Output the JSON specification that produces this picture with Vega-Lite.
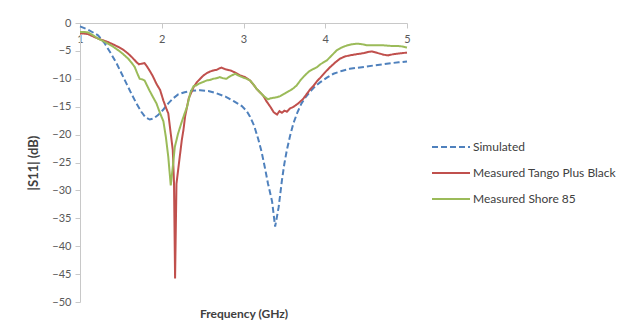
{
  "$schema": "https://vega.github.io/schema/vega-lite/v6.json",
  "width": 327,
  "height": 279,
  "autosize": {"type": "none"},
  "padding": {"left": 80, "top": 23, "right": 226, "bottom": 33},
  "background": "white",
  "config": {
    "view": {"stroke": null},
    "font": "Lato",
    "axis": {"grid": false, "domainColor": "#c8c8c8", "tickColor": "#c8c8c8", "labelColor": "#595959", "labelFont": "Lato", "labelFontSize": 11, "titleFont": "Lato", "titleFontSize": 12, "titleFontWeight": "bold", "titleColor": "#404040", "tickSize": 5}
  },
  "data": {"values": [
    {"s":"Simulated","f":1.0,"db":-0.6},{"s":"Simulated","f":1.1,"db":-1.2},{"s":"Simulated","f":1.22,"db":-2.2},{"s":"Simulated","f":1.3,"db":-3.6},{"s":"Simulated","f":1.38,"db":-5.5},{"s":"Simulated","f":1.45,"db":-7.3},{"s":"Simulated","f":1.51,"db":-9.1},{"s":"Simulated","f":1.57,"db":-10.9},{"s":"Simulated","f":1.63,"db":-12.7},{"s":"Simulated","f":1.69,"db":-14.4},{"s":"Simulated","f":1.75,"db":-15.9},{"s":"Simulated","f":1.8,"db":-16.9},{"s":"Simulated","f":1.853,"db":-17.3},{"s":"Simulated","f":1.9,"db":-17.1},{"s":"Simulated","f":1.955,"db":-16.5},{"s":"Simulated","f":2.02,"db":-15.5},{"s":"Simulated","f":2.08,"db":-14.4},{"s":"Simulated","f":2.14,"db":-13.5},{"s":"Simulated","f":2.2,"db":-12.8},{"s":"Simulated","f":2.28,"db":-12.4},{"s":"Simulated","f":2.36,"db":-12.15},{"s":"Simulated","f":2.47,"db":-12.05},{"s":"Simulated","f":2.57,"db":-12.2},{"s":"Simulated","f":2.67,"db":-12.6},{"s":"Simulated","f":2.78,"db":-13.2},{"s":"Simulated","f":2.88,"db":-14.0},{"s":"Simulated","f":2.98,"db":-14.9},{"s":"Simulated","f":3.04,"db":-15.8},{"s":"Simulated","f":3.08,"db":-16.8},{"s":"Simulated","f":3.13,"db":-18.4},{"s":"Simulated","f":3.18,"db":-20.8},{"s":"Simulated","f":3.22,"db":-23.0},{"s":"Simulated","f":3.26,"db":-25.8},{"s":"Simulated","f":3.3,"db":-28.8},{"s":"Simulated","f":3.35,"db":-32.0},{"s":"Simulated","f":3.387,"db":-36.5},{"s":"Simulated","f":3.43,"db":-33.0},{"s":"Simulated","f":3.47,"db":-28.2},{"s":"Simulated","f":3.5,"db":-25.2},{"s":"Simulated","f":3.53,"db":-22.8},{"s":"Simulated","f":3.57,"db":-20.2},{"s":"Simulated","f":3.61,"db":-18.0},{"s":"Simulated","f":3.66,"db":-16.0},{"s":"Simulated","f":3.71,"db":-14.4},{"s":"Simulated","f":3.76,"db":-13.3},{"s":"Simulated","f":3.82,"db":-12.2},{"s":"Simulated","f":3.88,"db":-11.3},{"s":"Simulated","f":3.94,"db":-10.6},{"s":"Simulated","f":4.02,"db":-9.8},{"s":"Simulated","f":4.1,"db":-9.1},{"s":"Simulated","f":4.2,"db":-8.6},{"s":"Simulated","f":4.3,"db":-8.2},{"s":"Simulated","f":4.4,"db":-8.0},{"s":"Simulated","f":4.51,"db":-7.8},{"s":"Simulated","f":4.6,"db":-7.6},{"s":"Simulated","f":4.71,"db":-7.4},{"s":"Simulated","f":4.8,"db":-7.2},{"s":"Simulated","f":4.9,"db":-7.05},{"s":"Simulated","f":5.0,"db":-6.9},
    {"s":"Measured Tango Plus Black","f":1.0,"db":-1.9},{"s":"Measured Tango Plus Black","f":1.05,"db":-1.9},{"s":"Measured Tango Plus Black","f":1.1,"db":-2.0},{"s":"Measured Tango Plus Black","f":1.16,"db":-2.4},{"s":"Measured Tango Plus Black","f":1.22,"db":-2.8},{"s":"Measured Tango Plus Black","f":1.28,"db":-3.1},{"s":"Measured Tango Plus Black","f":1.34,"db":-3.4},{"s":"Measured Tango Plus Black","f":1.4,"db":-3.8},{"s":"Measured Tango Plus Black","f":1.47,"db":-4.3},{"s":"Measured Tango Plus Black","f":1.53,"db":-4.8},{"s":"Measured Tango Plus Black","f":1.59,"db":-5.5},{"s":"Measured Tango Plus Black","f":1.64,"db":-6.2},{"s":"Measured Tango Plus Black","f":1.69,"db":-7.0},{"s":"Measured Tango Plus Black","f":1.72,"db":-7.4},{"s":"Measured Tango Plus Black","f":1.75,"db":-7.3},{"s":"Measured Tango Plus Black","f":1.79,"db":-7.2},{"s":"Measured Tango Plus Black","f":1.82,"db":-7.8},{"s":"Measured Tango Plus Black","f":1.85,"db":-8.5},{"s":"Measured Tango Plus Black","f":1.89,"db":-9.5},{"s":"Measured Tango Plus Black","f":1.935,"db":-10.9},{"s":"Measured Tango Plus Black","f":1.98,"db":-12.0},{"s":"Measured Tango Plus Black","f":2.02,"db":-13.9},{"s":"Measured Tango Plus Black","f":2.06,"db":-15.5},{"s":"Measured Tango Plus Black","f":2.08,"db":-16.2},{"s":"Measured Tango Plus Black","f":2.1,"db":-18.6},{"s":"Measured Tango Plus Black","f":2.135,"db":-22.8},{"s":"Measured Tango Plus Black","f":2.15,"db":-28.7},{"s":"Measured Tango Plus Black","f":2.163,"db":-45.8},{"s":"Measured Tango Plus Black","f":2.18,"db":-28.8},{"s":"Measured Tango Plus Black","f":2.215,"db":-24.6},{"s":"Measured Tango Plus Black","f":2.245,"db":-21.0},{"s":"Measured Tango Plus Black","f":2.265,"db":-19.2},{"s":"Measured Tango Plus Black","f":2.285,"db":-16.8},{"s":"Measured Tango Plus Black","f":2.33,"db":-13.5},{"s":"Measured Tango Plus Black","f":2.39,"db":-11.5},{"s":"Measured Tango Plus Black","f":2.43,"db":-10.6},{"s":"Measured Tango Plus Black","f":2.47,"db":-10.0},{"s":"Measured Tango Plus Black","f":2.51,"db":-9.4},{"s":"Measured Tango Plus Black","f":2.55,"db":-9.0},{"s":"Measured Tango Plus Black","f":2.59,"db":-8.7},{"s":"Measured Tango Plus Black","f":2.63,"db":-8.5},{"s":"Measured Tango Plus Black","f":2.67,"db":-8.4},{"s":"Measured Tango Plus Black","f":2.71,"db":-8.1},{"s":"Measured Tango Plus Black","f":2.73,"db":-8.0},{"s":"Measured Tango Plus Black","f":2.78,"db":-8.3},{"s":"Measured Tango Plus Black","f":2.84,"db":-8.5},{"s":"Measured Tango Plus Black","f":2.9,"db":-8.9},{"s":"Measured Tango Plus Black","f":2.96,"db":-9.4},{"s":"Measured Tango Plus Black","f":3.02,"db":-9.7},{"s":"Measured Tango Plus Black","f":3.08,"db":-10.3},{"s":"Measured Tango Plus Black","f":3.12,"db":-11.0},{"s":"Measured Tango Plus Black","f":3.16,"db":-11.8},{"s":"Measured Tango Plus Black","f":3.2,"db":-12.4},{"s":"Measured Tango Plus Black","f":3.24,"db":-13.0},{"s":"Measured Tango Plus Black","f":3.28,"db":-14.0},{"s":"Measured Tango Plus Black","f":3.33,"db":-15.05},{"s":"Measured Tango Plus Black","f":3.37,"db":-16.0},{"s":"Measured Tango Plus Black","f":3.41,"db":-16.4},{"s":"Measured Tango Plus Black","f":3.44,"db":-15.8},{"s":"Measured Tango Plus Black","f":3.47,"db":-16.1},{"s":"Measured Tango Plus Black","f":3.5,"db":-15.7},{"s":"Measured Tango Plus Black","f":3.53,"db":-15.9},{"s":"Measured Tango Plus Black","f":3.57,"db":-15.3},{"s":"Measured Tango Plus Black","f":3.61,"db":-15.05},{"s":"Measured Tango Plus Black","f":3.67,"db":-14.4},{"s":"Measured Tango Plus Black","f":3.73,"db":-13.6},{"s":"Measured Tango Plus Black","f":3.78,"db":-12.6},{"s":"Measured Tango Plus Black","f":3.82,"db":-11.8},{"s":"Measured Tango Plus Black","f":3.86,"db":-11.2},{"s":"Measured Tango Plus Black","f":3.9,"db":-10.4},{"s":"Measured Tango Plus Black","f":3.94,"db":-9.8},{"s":"Measured Tango Plus Black","f":4.0,"db":-8.8},{"s":"Measured Tango Plus Black","f":4.06,"db":-7.9},{"s":"Measured Tango Plus Black","f":4.12,"db":-7.1},{"s":"Measured Tango Plus Black","f":4.18,"db":-6.4},{"s":"Measured Tango Plus Black","f":4.24,"db":-6.0},{"s":"Measured Tango Plus Black","f":4.3,"db":-5.8},{"s":"Measured Tango Plus Black","f":4.38,"db":-5.6},{"s":"Measured Tango Plus Black","f":4.47,"db":-5.4},{"s":"Measured Tango Plus Black","f":4.52,"db":-5.2},{"s":"Measured Tango Plus Black","f":4.57,"db":-5.1},{"s":"Measured Tango Plus Black","f":4.62,"db":-5.3},{"s":"Measured Tango Plus Black","f":4.67,"db":-5.5},{"s":"Measured Tango Plus Black","f":4.72,"db":-5.7},{"s":"Measured Tango Plus Black","f":4.77,"db":-5.8},{"s":"Measured Tango Plus Black","f":4.83,"db":-5.6},{"s":"Measured Tango Plus Black","f":4.88,"db":-5.5},{"s":"Measured Tango Plus Black","f":4.94,"db":-5.4},{"s":"Measured Tango Plus Black","f":5.0,"db":-5.3},
    {"s":"Measured Shore 85","f":1.0,"db":-1.6},{"s":"Measured Shore 85","f":1.05,"db":-1.6},{"s":"Measured Shore 85","f":1.1,"db":-1.7},{"s":"Measured Shore 85","f":1.16,"db":-2.2},{"s":"Measured Shore 85","f":1.22,"db":-2.8},{"s":"Measured Shore 85","f":1.28,"db":-3.2},{"s":"Measured Shore 85","f":1.34,"db":-3.7},{"s":"Measured Shore 85","f":1.4,"db":-4.2},{"s":"Measured Shore 85","f":1.47,"db":-4.9},{"s":"Measured Shore 85","f":1.53,"db":-5.6},{"s":"Measured Shore 85","f":1.59,"db":-6.4},{"s":"Measured Shore 85","f":1.63,"db":-7.1},{"s":"Measured Shore 85","f":1.67,"db":-7.9},{"s":"Measured Shore 85","f":1.7,"db":-9.0},{"s":"Measured Shore 85","f":1.73,"db":-10.0},{"s":"Measured Shore 85","f":1.76,"db":-10.1},{"s":"Measured Shore 85","f":1.79,"db":-10.3},{"s":"Measured Shore 85","f":1.82,"db":-11.2},{"s":"Measured Shore 85","f":1.85,"db":-12.1},{"s":"Measured Shore 85","f":1.89,"db":-13.2},{"s":"Measured Shore 85","f":1.935,"db":-14.4},{"s":"Measured Shore 85","f":1.97,"db":-15.8},{"s":"Measured Shore 85","f":2.0,"db":-16.9},{"s":"Measured Shore 85","f":2.02,"db":-17.6},{"s":"Measured Shore 85","f":2.05,"db":-20.4},{"s":"Measured Shore 85","f":2.08,"db":-24.0},{"s":"Measured Shore 85","f":2.11,"db":-29.1},{"s":"Measured Shore 85","f":2.135,"db":-25.8},{"s":"Measured Shore 85","f":2.16,"db":-22.2},{"s":"Measured Shore 85","f":2.2,"db":-19.8},{"s":"Measured Shore 85","f":2.245,"db":-17.7},{"s":"Measured Shore 85","f":2.28,"db":-16.2},{"s":"Measured Shore 85","f":2.31,"db":-15.0},{"s":"Measured Shore 85","f":2.35,"db":-12.5},{"s":"Measured Shore 85","f":2.39,"db":-11.3},{"s":"Measured Shore 85","f":2.42,"db":-11.2},{"s":"Measured Shore 85","f":2.45,"db":-10.9},{"s":"Measured Shore 85","f":2.5,"db":-10.6},{"s":"Measured Shore 85","f":2.55,"db":-10.3},{"s":"Measured Shore 85","f":2.59,"db":-10.2},{"s":"Measured Shore 85","f":2.63,"db":-10.0},{"s":"Measured Shore 85","f":2.67,"db":-9.9},{"s":"Measured Shore 85","f":2.71,"db":-9.7},{"s":"Measured Shore 85","f":2.75,"db":-9.9},{"s":"Measured Shore 85","f":2.79,"db":-10.0},{"s":"Measured Shore 85","f":2.84,"db":-9.5},{"s":"Measured Shore 85","f":2.9,"db":-9.1},{"s":"Measured Shore 85","f":2.95,"db":-9.5},{"s":"Measured Shore 85","f":3.0,"db":-9.8},{"s":"Measured Shore 85","f":3.04,"db":-10.0},{"s":"Measured Shore 85","f":3.08,"db":-10.3},{"s":"Measured Shore 85","f":3.12,"db":-11.0},{"s":"Measured Shore 85","f":3.16,"db":-11.8},{"s":"Measured Shore 85","f":3.2,"db":-12.4},{"s":"Measured Shore 85","f":3.24,"db":-13.0},{"s":"Measured Shore 85","f":3.3,"db":-13.7},{"s":"Measured Shore 85","f":3.33,"db":-13.5},{"s":"Measured Shore 85","f":3.37,"db":-13.4},{"s":"Measured Shore 85","f":3.41,"db":-13.3},{"s":"Measured Shore 85","f":3.45,"db":-13.1},{"s":"Measured Shore 85","f":3.51,"db":-12.6},{"s":"Measured Shore 85","f":3.57,"db":-12.1},{"s":"Measured Shore 85","f":3.61,"db":-11.7},{"s":"Measured Shore 85","f":3.65,"db":-11.2},{"s":"Measured Shore 85","f":3.7,"db":-10.2},{"s":"Measured Shore 85","f":3.75,"db":-9.4},{"s":"Measured Shore 85","f":3.8,"db":-8.7},{"s":"Measured Shore 85","f":3.86,"db":-8.2},{"s":"Measured Shore 85","f":3.9,"db":-7.9},{"s":"Measured Shore 85","f":3.94,"db":-7.4},{"s":"Measured Shore 85","f":4.02,"db":-6.7},{"s":"Measured Shore 85","f":4.08,"db":-5.8},{"s":"Measured Shore 85","f":4.14,"db":-4.9},{"s":"Measured Shore 85","f":4.2,"db":-4.4},{"s":"Measured Shore 85","f":4.27,"db":-4.0},{"s":"Measured Shore 85","f":4.33,"db":-3.8},{"s":"Measured Shore 85","f":4.39,"db":-3.7},{"s":"Measured Shore 85","f":4.45,"db":-3.8},{"s":"Measured Shore 85","f":4.51,"db":-4.0},{"s":"Measured Shore 85","f":4.6,"db":-4.0},{"s":"Measured Shore 85","f":4.71,"db":-4.0},{"s":"Measured Shore 85","f":4.8,"db":-4.1},{"s":"Measured Shore 85","f":4.88,"db":-4.1},{"s":"Measured Shore 85","f":4.94,"db":-4.2},{"s":"Measured Shore 85","f":5.0,"db":-4.4}
  ]},
  "mark": {"type": "line", "strokeWidth": 2, "clip": false},
  "encoding": {
    "x": {"field": "f", "type": "quantitative", "scale": {"domain": [1, 5], "nice": false, "zero": false},
      "axis": {"orient": "bottom", "offset": -279, "values": [1, 2, 3, 4, 5], "labelFlush": false, "labelPadding": 5, "title": "Frequency (GHz)", "titleY": 290, "titleBaseline": "middle"}},
    "y": {"field": "db", "type": "quantitative", "scale": {"domain": [-50, 0], "nice": false},
      "axis": {"values": [0, -5, -10, -15, -20, -25, -30, -35, -40, -45, -50], "labelPadding": 4, "title": "|S11| (dB)", "titleFontSize": 13, "titlePadding": 11}},
    "color": {"field": "s", "type": "nominal", "title": null,
      "scale": {"domain": ["Simulated", "Measured Tango Plus Black", "Measured Shore 85"], "range": ["#4F81BD", "#C0504D", "#9BBB59"]},
      "legend": {"orient": "none", "legendX": 351, "legendY": 104, "symbolType": "stroke", "symbolSize": 1444, "symbolStrokeWidth": 2, "labelFontSize": 12, "labelFont": "Lato", "labelColor": "#404040", "labelOffset": 2, "rowPadding": -1, "padding": 0}},
    "strokeDash": {"field": "s", "type": "nominal", "title": null,
      "scale": {"domain": ["Simulated", "Measured Tango Plus Black", "Measured Shore 85"], "range": [[6, 3], [1, 0], [1, 0]]}}
  }
}
